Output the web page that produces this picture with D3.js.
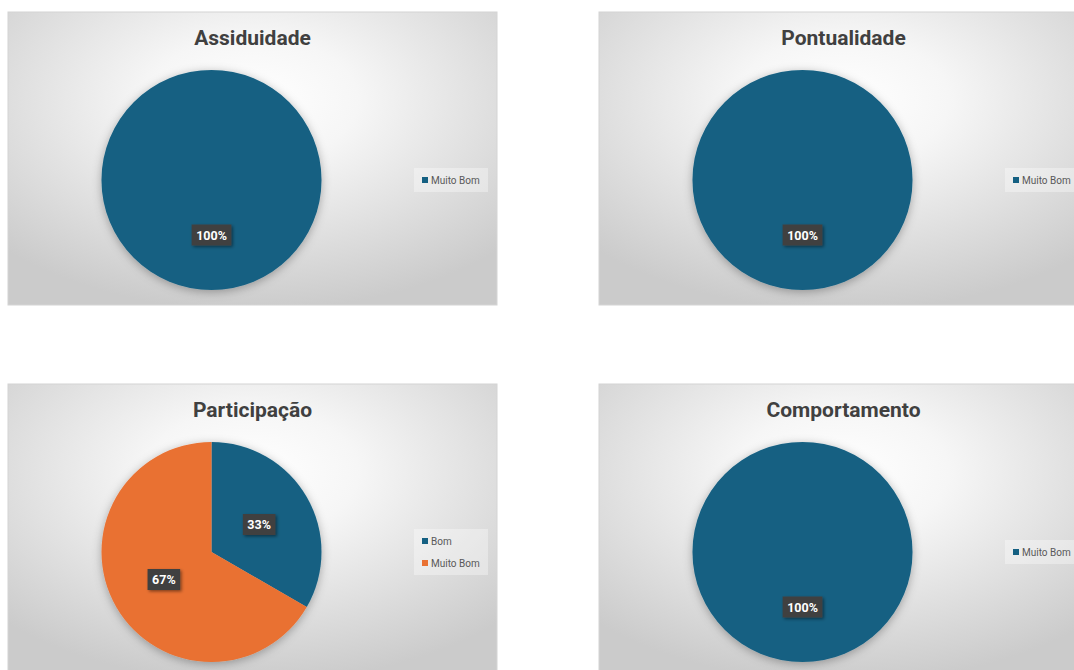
<!doctype html>
<html>
<head>
<meta charset="utf-8">
<script src="https://cdn.jsdelivr.net/npm/d3@7"></script>
<style>
  body { margin: 0; background: #fff; }
  text { font-family: Roboto, "Open Sans", sans-serif; }
</style>
</head>
<body>
<script>
// one pie per panel: title, categories, counts
const titles = ["Assiduidade", "Pontualidade", "Participação", "Comportamento"];
const categories = [["Muito Bom"], ["Muito Bom"], ["Bom", "Muito Bom"], ["Muito Bom"]];
const counts = [[3], [3], [1, 2], [3]];
const colors = ["#156082", "#e97132"];

const width = 1074, height = 670;
const panelW = 489, panelH = 293;
const origins = [[8, 12], [599, 12], [8, 384], [599, 384]];
const radius = 110;

const svg = d3.select("body").append("svg")
    .attr("width", width)
    .attr("height", height);

const defs = svg.append("defs");

const grad = defs.append("radialGradient")
    .attr("id", "bg")
    .attr("cx", "50%").attr("cy", "30%")
    .attr("r", "72%")
    .attr("fx", "50%").attr("fy", "30%");
grad.append("stop").attr("offset", "0%").attr("stop-color", "#ffffff");
grad.append("stop").attr("offset", "30%").attr("stop-color", "#f6f6f6");
grad.append("stop").attr("offset", "100%").attr("stop-color", "#cbcbcb");

const pieShadow = defs.append("filter").attr("id", "pieShadow")
    .attr("x", "-20%").attr("y", "-20%").attr("width", "140%").attr("height", "140%");
pieShadow.append("feDropShadow")
    .attr("dx", 0).attr("dy", 2).attr("stdDeviation", 5)
    .attr("flood-color", "#000").attr("flood-opacity", 0.3);

const boxShadow = defs.append("filter").attr("id", "boxShadow")
    .attr("x", "-30%").attr("y", "-30%").attr("width", "170%").attr("height", "170%");
boxShadow.append("feDropShadow")
    .attr("dx", 1.5).attr("dy", 1.5).attr("stdDeviation", 1.5)
    .attr("flood-color", "#000").attr("flood-opacity", 0.45);

const pie = d3.pie().sort(null).value(d => d);
const arc = d3.arc().innerRadius(0).outerRadius(radius);
const labelArc = d3.arc().innerRadius(radius * 0.5).outerRadius(radius * 0.5);
const color = d3.scaleOrdinal().domain([0, 1]).range(colors);

titles.forEach((title, i) => {
  const [ox, oy] = origins[i];
  const g = svg.append("g").attr("transform", `translate(${ox},${oy})`);

  g.append("rect")
      .attr("width", panelW).attr("height", panelH)
      .attr("fill", "url(#bg)")
      .attr("stroke", "#d4d4d4").attr("stroke-width", 1);

  g.append("text")
      .attr("x", panelW / 2).attr("y", 33)
      .attr("text-anchor", "middle")
      .attr("font-size", 21).attr("font-weight", 700)
      .attr("fill", "#404040")
      .text(title);

  const arcs = pie(counts[i]);
  const total = d3.sum(counts[i]);

  const pg = g.append("g").attr("transform", `translate(203.5,168)`);
  pg.append("g").attr("filter", "url(#pieShadow)")
    .selectAll("path")
    .data(arcs)
    .join("path")
      .attr("d", arc)
      .attr("fill", (d, j) => color(j));

  const lab = pg.selectAll("g.lab")
    .data(arcs)
    .join("g")
      .attr("class", "lab")
      .attr("transform", d => {
        const [x, y] = labelArc.centroid(d);
        return `translate(${x},${y})`;
      });

  lab.each(function(d) {
    const sel = d3.select(this);
    const txt = Math.round(d.value / total * 100) + "%";
    const t = sel.append("text")
        .attr("text-anchor", "middle")
        .attr("dy", "0.36em")
        .attr("font-size", 12.5).attr("font-weight", 700)
        .attr("fill", "#fff")
        .text(txt);
    const w = t.node().getComputedTextLength() + 9;
    sel.insert("rect", "text")
        .attr("x", -w / 2).attr("y", -10.5)
        .attr("width", w).attr("height", 21)
        .attr("fill", "#404040")
        .attr("filter", "url(#boxShadow)");
  });

  // legend
  const cats = categories[i];
  const lh = 22;
  const ly0 = 168 - (cats.length - 1) * lh / 2;
  g.append("rect")
      .attr("x", 406).attr("y", ly0 - 12)
      .attr("width", 74).attr("height", (cats.length - 1) * lh + 24)
      .attr("fill", "#ffffff").attr("fill-opacity", 0.35);
  const leg = g.selectAll("g.leg")
    .data(cats)
    .join("g")
      .attr("class", "leg")
      .attr("transform", (d, j) => `translate(414,${ly0 + j * lh})`);
  leg.append("rect")
      .attr("x", 0).attr("y", -3).attr("width", 6).attr("height", 6)
      .attr("fill", (d, j) => color(j));
  leg.append("text")
      .attr("x", 9).attr("dy", "0.35em")
      .attr("font-size", 10).attr("fill", "#595959")
      .text(d => d);
});
</script>
</body>
</html>
